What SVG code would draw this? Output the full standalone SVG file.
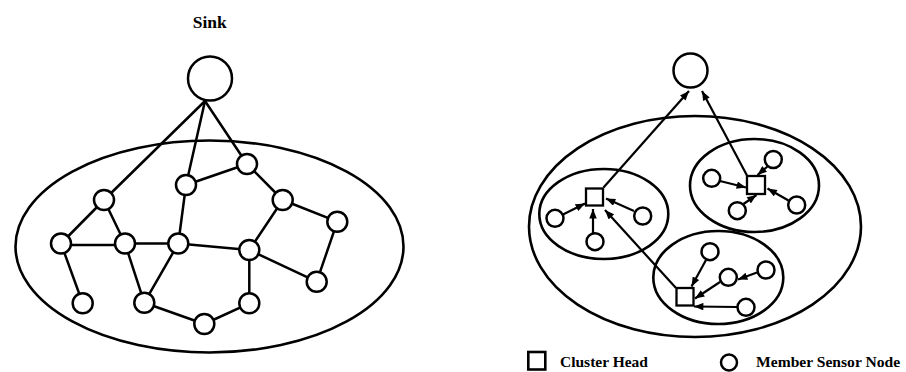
<svg xmlns="http://www.w3.org/2000/svg" width="906" height="372" viewBox="0 0 906 372">
  <defs>
    <style>
      .edge { stroke: #000; stroke-width: 2.5; fill: none; stroke-linecap: round; }
      .arrow { stroke: #000; stroke-width: 2.2; fill: none; marker-end: url(#head); }
      .region { stroke: #000; stroke-width: 2.6; fill: none; }
      .node { stroke: #000; stroke-width: 2.5; fill: #fff; }
      .head { stroke: #000; stroke-width: 2.3; fill: #fff; }
      .label { font-family: "Liberation Serif", "Times New Roman", serif; font-weight: bold; fill: #000; }
    </style>
    <marker id="head" viewBox="0 0 10 8" refX="10" refY="4" markerWidth="10" markerHeight="7.5" markerUnits="userSpaceOnUse" orient="auto">
      <path d="M0,0 L10,4 L0,8 Z" fill="#000"/>
    </marker>
  </defs>

  <rect width="906" height="372" fill="#fff"/>

  <!-- Flat multi-hop network -->
  <text class="label" x="209.7" y="27.5" font-size="17.5" text-anchor="middle">Sink</text>
  <ellipse class="region" cx="209.5" cy="246.5" rx="194" ry="106"/>

  <g id="flat-edges">
    <line class="edge" x1="205" y1="101" x2="104" y2="200"/>
    <line class="edge" x1="205" y1="101" x2="186" y2="185"/>
    <line class="edge" x1="205" y1="101" x2="247" y2="164"/>
    <line class="edge" x1="104" y1="200" x2="61" y2="243.5"/>
    <line class="edge" x1="104" y1="200" x2="125" y2="243.5"/>
    <line class="edge" x1="61" y1="245" x2="125" y2="245"/>
    <line class="edge" x1="61" y1="243.5" x2="82.7" y2="303.3"/>
    <line class="edge" x1="125" y1="243.5" x2="178.3" y2="243.5"/>
    <line class="edge" x1="125" y1="243.5" x2="144.3" y2="302.7"/>
    <line class="edge" x1="178.3" y1="243.5" x2="144.3" y2="302.7"/>
    <line class="edge" x1="178.3" y1="243.5" x2="186" y2="185"/>
    <line class="edge" x1="178.3" y1="243.5" x2="249.3" y2="250"/>
    <line class="edge" x1="186" y1="185" x2="247" y2="164"/>
    <line class="edge" x1="247" y1="164" x2="282.7" y2="200"/>
    <line class="edge" x1="282.7" y1="200" x2="337.3" y2="221.7"/>
    <line class="edge" x1="282.7" y1="200" x2="249.3" y2="250"/>
    <line class="edge" x1="337.3" y1="221.7" x2="316.7" y2="281.7"/>
    <line class="edge" x1="249.3" y1="250" x2="316.7" y2="281.7"/>
    <line class="edge" x1="249.3" y1="250" x2="249.3" y2="303.3"/>
    <line class="edge" x1="144.3" y1="302.7" x2="204.3" y2="324"/>
    <line class="edge" x1="204.3" y1="324" x2="249.3" y2="303.3"/>
  </g>

  <g id="flat-sink"><circle class="node" cx="210" cy="78.5" r="22"/></g>
  <g id="flat-a"><circle class="node" cx="104" cy="200" r="10"/></g>
  <g id="flat-b"><circle class="node" cx="61" cy="243.5" r="10"/></g>
  <g id="flat-c"><circle class="node" cx="125" cy="243.5" r="10"/></g>
  <g id="flat-d"><circle class="node" cx="178.3" cy="243.5" r="10"/></g>
  <g id="flat-e"><circle class="node" cx="186" cy="185" r="10"/></g>
  <g id="flat-f"><circle class="node" cx="247" cy="164" r="10"/></g>
  <g id="flat-g"><circle class="node" cx="282.7" cy="200" r="10"/></g>
  <g id="flat-h"><circle class="node" cx="337.3" cy="221.7" r="10"/></g>
  <g id="flat-i"><circle class="node" cx="249.3" cy="250" r="10"/></g>
  <g id="flat-j"><circle class="node" cx="316.7" cy="281.7" r="10"/></g>
  <g id="flat-k"><circle class="node" cx="82.7" cy="303.3" r="10"/></g>
  <g id="flat-l"><circle class="node" cx="144.3" cy="302.7" r="10"/></g>
  <g id="flat-m"><circle class="node" cx="204.3" cy="324" r="10"/></g>
  <g id="flat-n"><circle class="node" cx="249.3" cy="303.3" r="10"/></g>

  <!-- Clustered network -->
  <ellipse class="region" cx="695" cy="226.5" rx="166" ry="110.5"/>
  <ellipse class="region" cx="603.8" cy="214" rx="64.5" ry="45"/>
  <ellipse class="region" cx="754.5" cy="185.5" rx="64.5" ry="46.5"/>
  <ellipse class="region" cx="718.3" cy="277.5" rx="65" ry="46.5"/>

  <g id="cluster-links">
    <line class="arrow" x1="603.5" y1="187.5" x2="689" y2="91"/>
    <line class="arrow" x1="747" y1="175.5" x2="702" y2="91"/>
    <line class="arrow" x1="676" y1="288" x2="605" y2="210"/>
    <line class="arrow" x1="563" y1="214.5" x2="585" y2="203.5"/>
    <line class="arrow" x1="593" y1="233" x2="593" y2="209"/>
    <line class="arrow" x1="634" y1="211" x2="606" y2="198.5"/>
    <line class="arrow" x1="720" y1="181" x2="746" y2="187.5"/>
    <line class="arrow" x1="767.5" y1="166.5" x2="757.5" y2="175"/>
    <line class="arrow" x1="743.5" y1="204" x2="756.5" y2="195"/>
    <line class="arrow" x1="788.5" y1="200.5" x2="767.5" y2="188.5"/>
    <line class="arrow" x1="706" y1="260" x2="691.5" y2="286.5"/>
    <line class="arrow" x1="720" y1="282" x2="695" y2="298.5"/>
    <line class="arrow" x1="757" y1="272.5" x2="738" y2="279.5"/>
    <line class="arrow" x1="737.5" y1="307" x2="694" y2="306.5"/>
  </g>

  <g id="cluster-sink"><circle class="node" cx="690.5" cy="70.5" r="17"/></g>
  <g id="ch-left"><rect class="head" x="586" y="188.5" width="17" height="17"/></g>
  <g id="ch-top"><rect class="head" x="747" y="176" width="18" height="18"/></g>
  <g id="ch-bottom"><rect class="head" x="676.5" y="288" width="17" height="17.5"/></g>

  <g id="m-left-1"><circle class="node" cx="555" cy="218.3" r="8.5"/></g>
  <g id="m-left-2"><circle class="node" cx="595" cy="241.7" r="8.5"/></g>
  <g id="m-left-3"><circle class="node" cx="642.7" cy="216" r="8.5"/></g>
  <g id="m-top-1"><circle class="node" cx="711.7" cy="178.3" r="8.5"/></g>
  <g id="m-top-2"><circle class="node" cx="773.3" cy="159.5" r="8.5"/></g>
  <g id="m-top-3"><circle class="node" cx="737.3" cy="210.7" r="8.5"/></g>
  <g id="m-top-4"><circle class="node" cx="796.7" cy="205" r="8.5"/></g>
  <g id="m-bot-1"><circle class="node" cx="710" cy="251.7" r="8.5"/></g>
  <g id="m-bot-2"><circle class="node" cx="728.3" cy="277.3" r="8.5"/></g>
  <g id="m-bot-3"><circle class="node" cx="766" cy="270" r="8.5"/></g>
  <g id="m-bot-4"><circle class="node" cx="746" cy="307.3" r="8.5"/></g>

  <!-- Legend -->
  <g id="legend-head">
    <rect x="528.3" y="352" width="17" height="17.5" fill="#fff" stroke="#000" stroke-width="2.6"/>
    <text class="label" x="560" y="367" font-size="15.5">Cluster Head</text>
  </g>
  <g id="legend-member">
    <circle cx="729" cy="362.5" r="8" fill="#fff" stroke="#000" stroke-width="2.5"/>
    <text class="label" x="756" y="367" font-size="15.6">Member Sensor Node</text>
  </g>
</svg>
